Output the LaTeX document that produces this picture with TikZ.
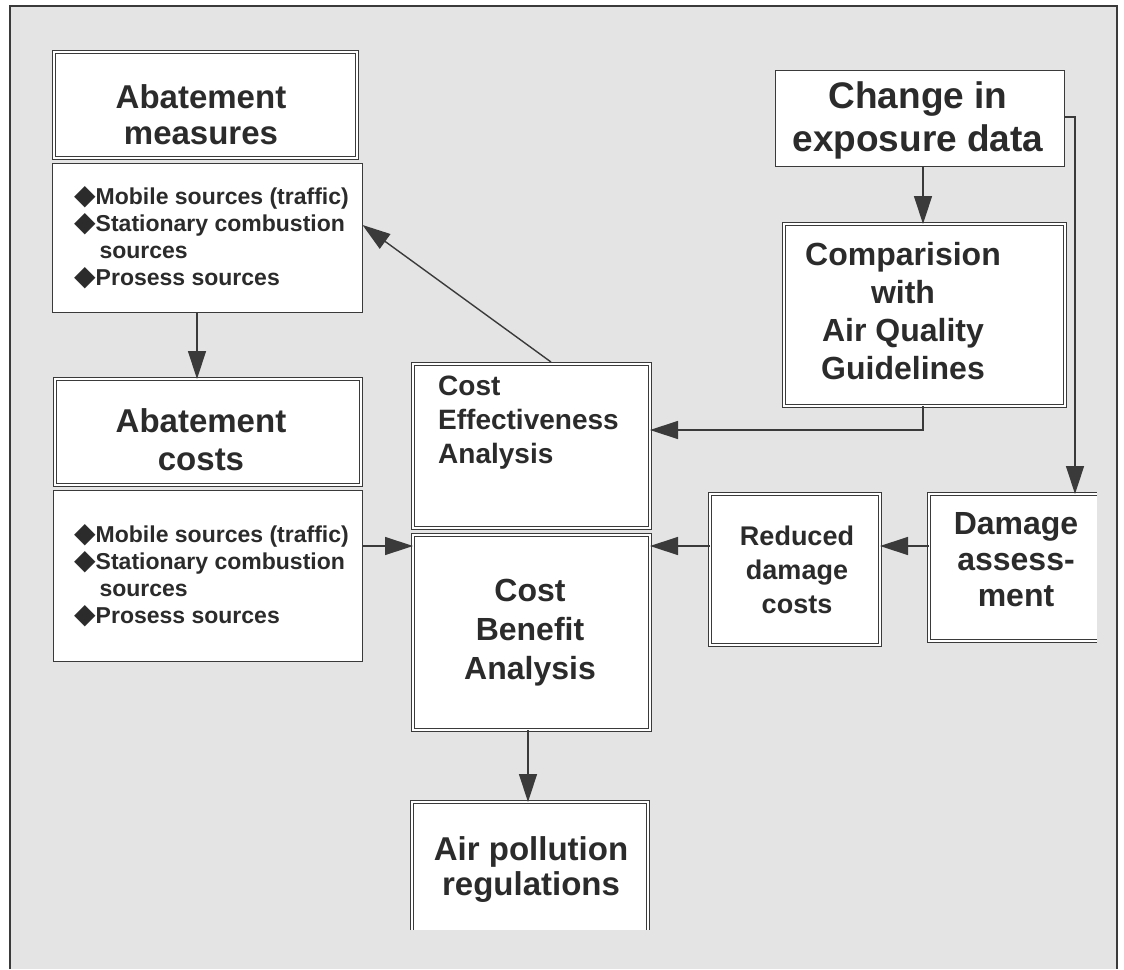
\documentclass[tikz,border=0pt]{standalone}
\usepackage{fontspec}
\setmainfont{Liberation Sans}
\newfontfamily\symfont{DejaVu Sans}
\usetikzlibrary{arrows.meta}
\definecolor{lc}{HTML}{3A3A3A}
\definecolor{tc}{HTML}{2B2B2B}
\definecolor{bg}{HTML}{E4E4E4}
\newcommand{\dia}{{\symfont\fontsize{28}{27}\selectfont\char"25C6}}
\tikzset{
  dbox/.style={draw=lc, double=white, double distance=2.4pt, line width=0.9pt, fill=white, inner sep=0pt, outer sep=0pt},
  sbox/.style={draw=lc, line width=1.2pt, fill=white, inner sep=0pt, outer sep=0pt},
  fbox/.style={fill=white, inner sep=0pt, outer sep=0pt},
  dline/.style={draw=lc, double=white, double distance=2.4pt, line width=0.9pt},
  arr/.style={draw=lc, line width=1.4pt, -{Triangle[length=28pt,width=18pt]}},
  txt/.style={text=tc, align=center, inner sep=0pt, font=\bfseries},
  ltxt/.style={text=tc, align=left, inner sep=0pt, font=\bfseries}
}
\begin{document}
\begin{tikzpicture}[x=1pt,y=-1pt]
\useasboundingbox (0,0) rectangle (1124,969);
\fill[white] (0,0) rectangle (1124,969);
\fill[bg] (10,6) rectangle (1117,969);
\draw[lc, line width=1.5pt] (10,969) -- (10,6) -- (1117,6) -- (1117,969);

% boxes
\node[dbox, minimum width=303pt, minimum height=106pt] (am) at (205.5,105) {};
\node[sbox, minimum width=310pt, minimum height=149pt] (aml) at (207.5,238) {};
\node[dbox, minimum width=306pt, minimum height=106pt] (ac) at (208,432) {};
\node[sbox, minimum width=309pt, minimum height=171pt] (acl) at (208,576) {};
\node[dbox, minimum width=237pt, minimum height=164pt] (cea) at (531.5,446) {};
\node[dbox, minimum width=237pt, minimum height=195pt] (cba) at (531.5,632.5) {};
\node[sbox, minimum width=289pt, minimum height=96pt] (chg) at (920,118.5) {};
\node[dbox, minimum width=281pt, minimum height=182pt] (cmp) at (924.5,315) {};
\node[dbox, minimum width=170pt, minimum height=151pt] (red) at (795,569.5) {};
\node[fbox, minimum width=168pt, minimum height=147pt] (dmg) at (1013,567.5) {};
\draw[dline] (dmg.north east) -- (dmg.north west) -- (dmg.south west) -- (dmg.south east);
\node[fbox, minimum width=236pt, minimum height=128pt] (air) at (530,866) {};
\draw[dline] (air.south west) -- (air.north west) -- (air.north east) -- (air.south east);

% texts
\node[txt, font=\bfseries\fontsize{33}{36}\selectfont] (amt) at (201,115) {Abatement\\measures};
\node[ltxt, anchor=west, font=\bfseries\fontsize{23}{27}\selectfont] (amlt) at (74,238)
  {\dia Mobile sources (traffic)\\\dia Stationary combustion\\\hphantom{\dia}\,sources\\\dia Prosess sources};
\node[txt, font=\bfseries\fontsize{33}{38}\selectfont] (act) at (201,440) {Abatement\\costs};
\node[ltxt, anchor=west, font=\bfseries\fontsize{23}{27}\selectfont] (aclt) at (74,576)
  {\dia Mobile sources (traffic)\\\dia Stationary combustion\\\hphantom{\dia}\,sources\\\dia Prosess sources};
\node[ltxt, anchor=west, font=\bfseries\fontsize{28}{34}\selectfont] (ceat) at (438,423) {Cost\\Effectiveness\\Analysis};
\node[txt, font=\bfseries\fontsize{32}{39}\selectfont] (cbat) at (530,633) {Cost\\Benefit\\Analysis};
\node[txt, font=\bfseries\fontsize{32}{38}\selectfont] (cmpt) at (903,311) {Comparision\\with\\Air Quality\\Guidelines};
\node[txt, font=\bfseries\fontsize{37}{43}\selectfont] (chgt) at (918,120) {Change in\\exposure data};
\node[txt, font=\bfseries\fontsize{32}{36}\selectfont] (dmgt) at (1016,560) {Damage\\assess-\\ment};
\node[txt, font=\bfseries\fontsize{27}{34}\selectfont] (redt) at (797,570) {Reduced\\damage\\costs};
\node[txt, font=\bfseries\fontsize{33}{35}\selectfont] (airt) at (531,870) {Air pollution\\regulations};

% helper coordinates
\coordinate (x197) at (197,0);
\coordinate (x528) at (528,0);
\coordinate (x923) at (923,0);
\coordinate (y225) at (0,225);
\coordinate (y546) at (0,546);
\coordinate (b1) at (923,430);
\coordinate (b2) at (1075,117);
\coordinate (ceaS) at (551,362);

% connectors
\draw[arr] (x197 |- aml.south) -- (x197 |- ac.north);
\draw[arr] (ceaS) -- (aml.east |- y225);
\draw[arr] (acl.east |- y546) -- (cba.west |- y546);
\draw[arr] (red.west |- y546) -- (cba.east |- y546);
\draw[arr] (dmg.west |- y546) -- (red.east |- y546);
\draw[arr] (x923 |- chg.south) -- (x923 |- cmp.north);
\draw[arr] (x923 |- cmp.south) -- (b1) -- (cea.east |- b1);
\draw[arr] (chg.east |- b2) -- (b2) -- (b2 |- dmg.north);
\draw[arr] (x528 |- cba.south) -- (x528 |- air.north);
\end{tikzpicture}
\end{document}
